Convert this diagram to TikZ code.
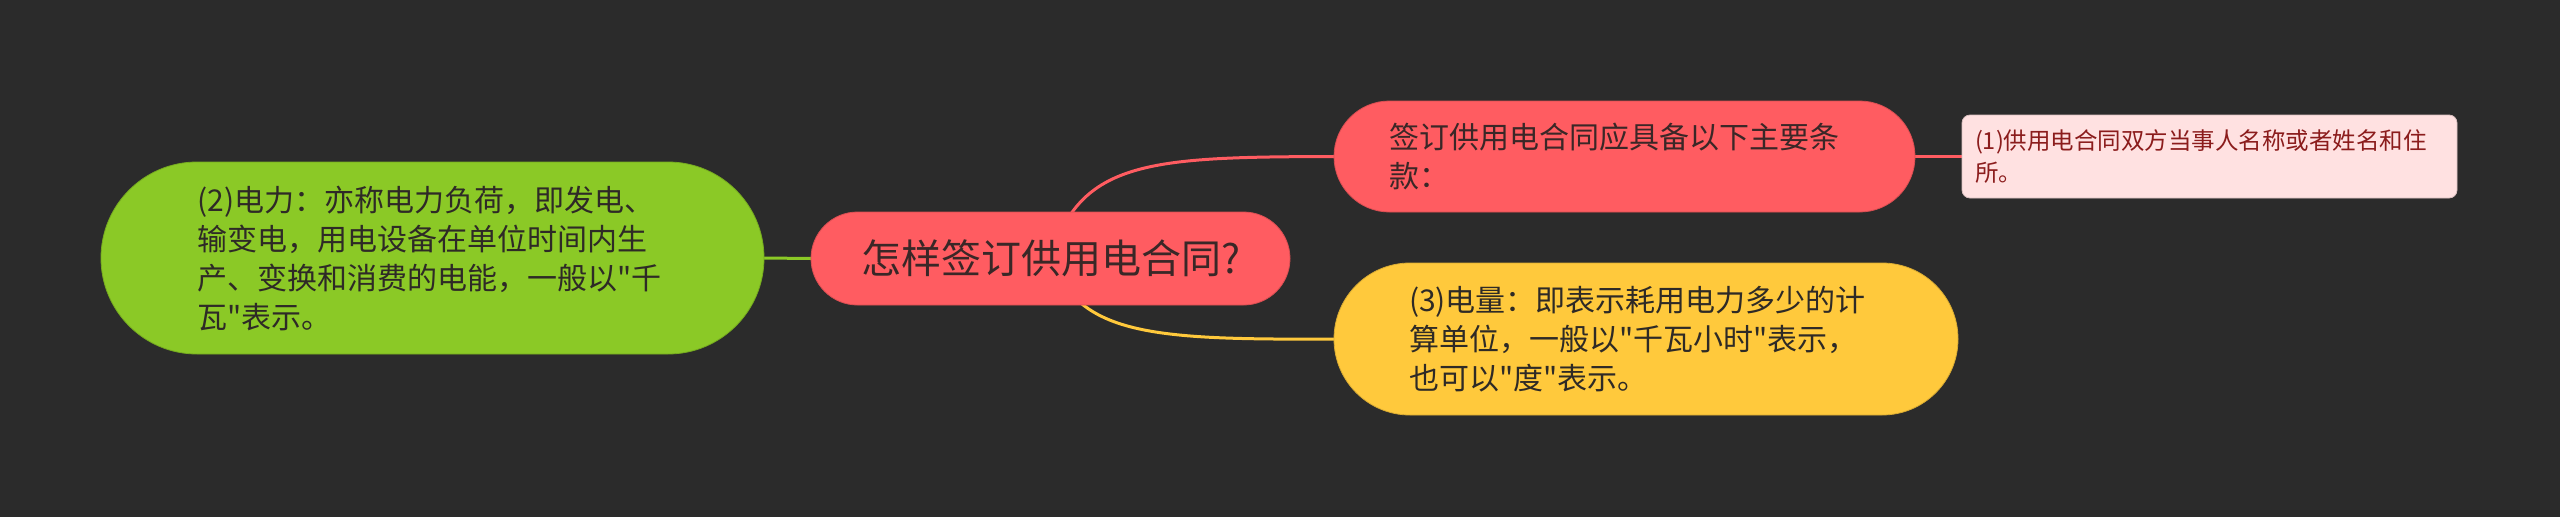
\documentclass[tikz,border=0pt]{standalone}
\usepackage{fontspec}
\newfontfamily\cjkfont{Noto Sans CJK SC}
\definecolor{bgc}{HTML}{2B2B2B}
\definecolor{greenc}{HTML}{8BC926}
\definecolor{redc}{HTML}{FF5C61}
\definecolor{yellowc}{HTML}{FFC93C}
\definecolor{pinkc}{HTML}{FFE1E1}
\definecolor{darktext}{HTML}{2E2A26}
\definecolor{redtext}{HTML}{3A2727}
\definecolor{pinktext}{HTML}{8B1C1C}
\pgfdeclarelayer{bglayer}
\pgfdeclarelayer{connlayer}
\pgfsetlayers{bglayer,connlayer,main}
\tikzset{
  topic/.style={inner sep=0pt, outer sep=0pt, align=left},
  pill/.style={topic, draw=#1!85!black, line width=0.8pt, fill=#1},
  conn/.style={draw=#1, line width=3pt},
  bodyfont/.style={font=\cjkfont\fontsize{30}{39}\selectfont},
}
\begin{document}
\begin{tikzpicture}[x=1pt,y=-1pt]
\begin{pgfonlayer}{bglayer}
\fill[bgc] (0,0) rectangle (2560,517);
\end{pgfonlayer}
\useasboundingbox (0,0) rectangle (2560,517);

\node[pill=greenc, bodyfont, text=darktext, minimum width=663pt, minimum height=192pt,
      text width=470pt, rounded corners=96pt] (g) at (432.5,258)
  {(2)电力：亦称电力负荷，即发电、\\输变电，用电设备在单位时间内生\\产、变换和消费的电能，一般以"千\\瓦"表示。};

\node[pill=redc, align=center, text=redtext, font=\cjkfont\fontsize{40}{48}\selectfont,
      minimum width=479pt, minimum height=93pt, rounded corners=46.5pt] (c) at (1050.5,258.5)
  {怎样签订供用电合同?};

\node[pill=redc, bodyfont, text=redtext, minimum width=581pt, minimum height=111pt,
      text width=471pt, rounded corners=55.5pt] (t1) at (1624.5,156.5)
  {签订供用电合同应具备以下主要条\\款：};

\node[pill=yellowc, bodyfont, text=darktext, minimum width=624pt, minimum height=152pt,
      text width=474pt, rounded corners=76pt] (y) at (1646,339)
  {(3)电量：即表示耗用电力多少的计\\算单位，一般以"千瓦小时"表示，\\也可以"度"表示。};

\node[pill=pinkc, text=pinktext, font=\cjkfont\fontsize{23.5}{31.5}\selectfont,
      minimum width=495pt, minimum height=83pt, text width=469pt, rounded corners=8pt] (p) at (2209.5,156.5)
  {(1)供用电合同双方当事人名称或者姓名和住\\所。};

\begin{pgfonlayer}{connlayer}
\draw[conn=greenc] (g.east) -- (c.west);
\draw[conn=redc] (c.center) .. controls (1080,160) and (1150,157) .. (t1.west);
\draw[conn=yellowc] (c.center) .. controls (1080,335) and (1150,340) .. (y.west);
\draw[conn=redc] (t1.east) -- (p.west);
\end{pgfonlayer}
\end{tikzpicture}
\end{document}
